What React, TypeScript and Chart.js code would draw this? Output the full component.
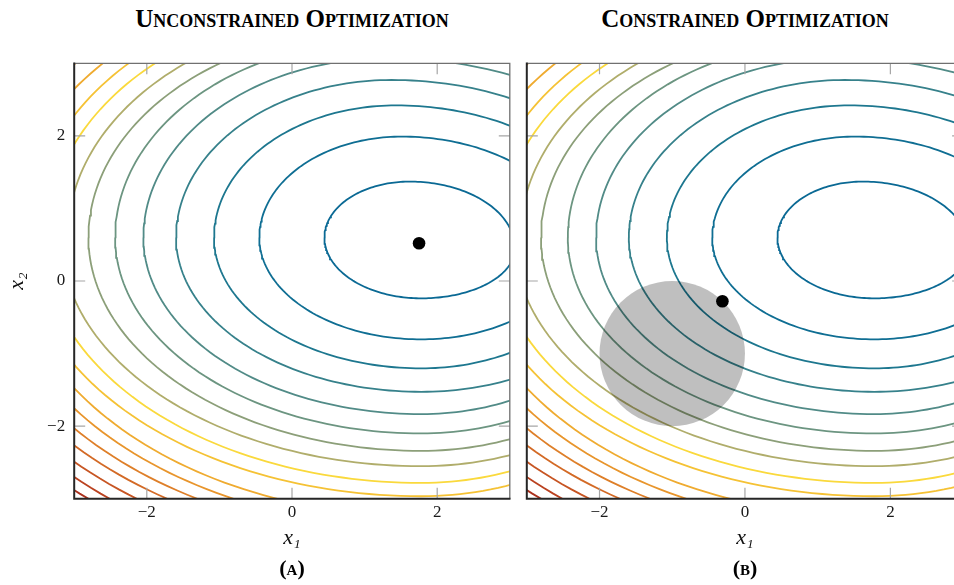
import { useEffect, useRef } from 'react';
import { Chart, registerables } from 'chart.js';

Chart.register(...registerables);

// axis range and ticks (both axes)
const axisMin = -3;
const axisMax = 3;
const tickValues = [-2, 0, 2];

// level curves of the objective, innermost first.
// Each curve is described by its extreme points in (x1, x2).
const contourTop = [1.37, 1.99, 2.42, 2.77, 3.07, 3.315, 3.48, 3.67, 3.85, 4.03, 4.18, 4.37, 4.54, 4.71, 4.87, 5.03, 5.19];
const contourTopX = [1.62, 1.51, 1.43, 1.37, 1.32, 1.275, 1.247, 1.213, 1.18, 1.15, 1.12, 1.09, 1.06, 1.03, 1.0, 0.97, 0.95];
const contourBottom = [-0.239, -0.804, -1.204, -1.527, -1.834, -2.101, -2.341, -2.552, -2.782, -2.966, -3.243, -3.405, -3.558, -3.698, -3.867, -4.042, -4.15];
const contourLeftUpper = [0.447, -0.45, -1.074, -1.597, -2.047, -2.436, -2.804, -3.09, -3.37, -3.61, -3.9, -4.19, -4.46, -4.72, -4.98, -5.23, -5.48];
const contourLeftLower = [0.447, -0.45, -1.074, -1.597, -2.047, -2.436, -2.804, -3.18, -3.45, -3.71, -3.9, -4.13, -4.39, -4.63, -4.84, -5.02, -5.25];
const contourRightUpper = [3.07, 3.905, 4.486, 4.979, 5.42, 5.8, 6.1, 6.4, 6.7, 7.0, 7.3, 7.6, 7.9, 8.2, 8.5, 8.8, 9.1];
const contourRightLower = [3.07, 3.84, 4.26, 4.81, 4.88, 5.17, 5.42, 5.66, 5.72, 5.87, 6.1, 6.35, 6.6, 6.85, 7.1, 7.35, 7.6];
const contourColors = [
  '#0a6994', '#0f6e93', '#1d778f', '#36818b', '#518b87', '#6c9581', '#8c9f79',
  '#b0ad6b', '#fad93c', '#f5c235', '#efab30', '#e8952c', '#de7f29', '#d36a26',
  '#c75523', '#ba4220', '#ab311d',
];
// heights where the curves reach their left / right extremes, and x of their lowest points
const waistLeft = 0.6;
const waistRight = 0.45;
const bottomX = 1.78;

// optima and feasible set
const unconstrainedMin = { x: 1.75, y: 0.52 };
const constrainedMin = { x: -0.31, y: -0.28 };
const feasibleCenter = { x: -1, y: -1 };
const feasibleRadius = 1;

const ARC_STEPS = 60;

function contourPath(k: number) {
  const pts: { x: number; y: number }[] = [];
  const arc = (cx: number, cy: number, rx: number, ry: number, a0: number, a1: number) => {
    for (let i = 0; i <= ARC_STEPS; i++) {
      const a = a0 + ((a1 - a0) * i) / ARC_STEPS;
      pts.push({ x: cx + rx * Math.cos(a), y: cy + ry * Math.sin(a) });
    }
  };
  const T = contourTop[k];
  const xt = contourTopX[k];
  const B = contourBottom[k];
  arc(xt, waistLeft, xt - contourLeftUpper[k], T - waistLeft, Math.PI, Math.PI / 2);
  arc(xt, waistRight, contourRightUpper[k] - xt, T - waistRight, Math.PI / 2, 0);
  arc(bottomX, waistRight, contourRightLower[k] - bottomX, waistRight - B, 0, -Math.PI / 2);
  arc(bottomX, waistLeft, bottomX - contourLeftLower[k], waistLeft - B, -Math.PI / 2, -Math.PI);
  pts.push(pts[0]);
  return pts;
}

const serif = "'Liberation Serif', 'DejaVu Serif', serif";
const formatTick = (v: number | string) => String(v).replace('-', '\u2212');

const framePlugin = {
  id: 'frame',
  afterDatasetsDraw(chart: any) {
    const { ctx, chartArea: a, scales } = chart;
    const x = scales.x;
    const y = scales.y;
    ctx.save();
    ctx.strokeStyle = '#a6a6a6';
    ctx.lineWidth = 1.2;
    ctx.beginPath();
    for (const v of tickValues) {
      const px = x.getPixelForValue(v);
      ctx.moveTo(px, a.bottom);
      ctx.lineTo(px, a.bottom - 11);
      ctx.moveTo(px, a.top);
      ctx.lineTo(px, a.top + 11);
      const py = y.getPixelForValue(v);
      ctx.moveTo(a.left, py);
      ctx.lineTo(a.left + 11, py);
      ctx.moveTo(a.right, py);
      ctx.lineTo(a.right - 11, py);
    }
    ctx.stroke();
    ctx.strokeStyle = '#707070';
    ctx.lineWidth = 1.3;
    ctx.beginPath();
    ctx.moveTo(a.left, a.top);
    ctx.lineTo(a.right, a.top);
    ctx.lineTo(a.right, a.bottom);
    ctx.stroke();
    ctx.strokeStyle = '#262626';
    ctx.lineWidth = 2;
    ctx.beginPath();
    ctx.moveTo(a.left, a.top - 0.7);
    ctx.lineTo(a.left, a.bottom);
    ctx.lineTo(a.right + 0.7, a.bottom);
    ctx.stroke();
    ctx.restore();
  },
};

// grey disk drawn just before the optimum marker (dataset 0)
const feasiblePlugin = {
  id: 'feasible',
  beforeDatasetDraw(chart: any, args: any) {
    if (args.index !== 0) return;
    const { ctx, chartArea: a, scales } = chart;
    const x = scales.x;
    const y = scales.y;
    const cx = x.getPixelForValue(feasibleCenter.x);
    const cy = y.getPixelForValue(feasibleCenter.y);
    const rx = Math.abs(x.getPixelForValue(feasibleCenter.x + feasibleRadius) - cx);
    const ry = Math.abs(y.getPixelForValue(feasibleCenter.y + feasibleRadius) - cy);
    ctx.save();
    ctx.beginPath();
    ctx.rect(a.left, a.top, a.right - a.left, a.bottom - a.top);
    ctx.clip();
    ctx.fillStyle = 'rgba(0,0,0,0.25)';
    ctx.beginPath();
    ctx.ellipse(cx, cy, rx, ry, 0, 0, Math.PI * 2);
    ctx.fill();
    ctx.restore();
  },
};

function makeConfig(opts: {
  optimum: { x: number; y: number };
  yAxisWidth: number;
  padRight: number;
  yLabels: boolean;
  feasible: boolean;
}) {
  const contourSets = contourTop.map((_, k) => ({
    data: contourPath(k),
    showLine: true,
    borderColor: contourColors[k],
    borderWidth: 1.8,
    pointRadius: 0,
    fill: false,
    tension: 0,
    clip: 0,
  }));
  const dotSet = {
    data: [opts.optimum],
    showLine: false,
    pointRadius: 6.3,
    pointBackgroundColor: '#000',
    pointBorderColor: '#000',
    pointBorderWidth: 0,
    clip: 0,
  };
  return {
    type: 'scatter' as const,
    data: { datasets: [dotSet, ...contourSets] },
    options: {
      animation: false,
      responsive: false,
      events: [],
      layout: { padding: { left: 0, right: opts.padRight, top: 63.3, bottom: 0 } },
      plugins: {
        legend: { display: false },
        tooltip: { enabled: false },
        title: { display: false },
      },
      scales: {
        x: {
          type: 'linear',
          min: axisMin,
          max: axisMax,
          grid: { display: false, drawTicks: false },
          border: { display: false },
          afterBuildTicks: (s: any) => {
            s.ticks = tickValues.map((v) => ({ value: v }));
          },
          afterFit: (s: any) => {
            s.height = 86.3;
          },
          ticks: {
            padding: 4.1,
            maxRotation: 0,
            color: '#1a1a1a',
            font: { family: serif, size: 17 },
            callback: formatTick,
          },
          title: {
            display: true,
            text: 'x\u2081',
            color: '#111',
            font: { family: serif, size: 22, style: 'italic' },
            padding: { top: 0, bottom: 33.3 },
          },
        },
        y: {
          type: 'linear',
          min: axisMin,
          max: axisMax,
          grid: { display: false, drawTicks: false },
          border: { display: false },
          afterBuildTicks: (s: any) => {
            s.ticks = tickValues.map((v) => ({ value: v }));
          },
          afterFit: (s: any) => {
            s.width = opts.yAxisWidth;
          },
          ticks: {
            display: opts.yLabels,
            padding: 9,
            color: '#1a1a1a',
            font: { family: serif, size: 17 },
            callback: formatTick,
          },
          title: {
            display: opts.yLabels,
            text: 'x\u2082',
            color: '#111',
            font: { family: serif, size: 22, style: 'italic' },
            padding: { top: 3.8, bottom: 0 },
          },
        },
      },
    },
    plugins: opts.feasible ? [feasiblePlugin, framePlugin] : [framePlugin],
  };
}

const headStyle = (cx: number): any => ({
  position: 'absolute',
  left: cx - 250,
  width: 500,
  top: 5.8,
  textAlign: 'center',
  fontFamily: serif,
  fontWeight: 'bold',
  fontSize: 25,
  lineHeight: '25px',
  fontVariant: 'small-caps',
  color: '#000',
});

const captionStyle = (cx: number): any => ({
  position: 'absolute',
  left: cx - 50,
  width: 100,
  top: 556.6,
  textAlign: 'center',
  fontFamily: serif,
  fontWeight: 'bold',
  fontSize: 22,
  lineHeight: '22px',
  fontVariant: 'small-caps',
  color: '#000',
});

export default function App() {
  const refA = useRef<HTMLCanvasElement>(null);
  const refB = useRef<HTMLCanvasElement>(null);

  useEffect(() => {
    const a = new Chart(
      refA.current as HTMLCanvasElement,
      makeConfig({ optimum: unconstrainedMin, yAxisWidth: 74.2, padRight: 10.2, yLabels: true, feasible: false }) as any,
    );
    const b = new Chart(
      refB.current as HTMLCanvasElement,
      makeConfig({ optimum: constrainedMin, yAxisWidth: 10.8, padRight: 12.9, yLabels: false, feasible: true }) as any,
    );
    return () => {
      a.destroy();
      b.destroy();
    };
  }, []);

  return (
    <div style={{ position: 'fixed', left: 0, top: 0, width: 954, height: 585, overflow: 'hidden', background: '#fff' }}>
      <div style={headStyle(292)}>Unconstrained Optimization</div>
      <div style={headStyle(745)}>Constrained Optimization</div>
      <canvas ref={refA} width={520} height={585} style={{ position: 'absolute', left: 0, top: 0 }} />
      <canvas ref={refB} width={460} height={585} style={{ position: 'absolute', left: 516, top: 0 }} />
      <div style={captionStyle(292)}>(a)</div>
      <div style={captionStyle(745)}>(b)</div>
    </div>
  );
}
